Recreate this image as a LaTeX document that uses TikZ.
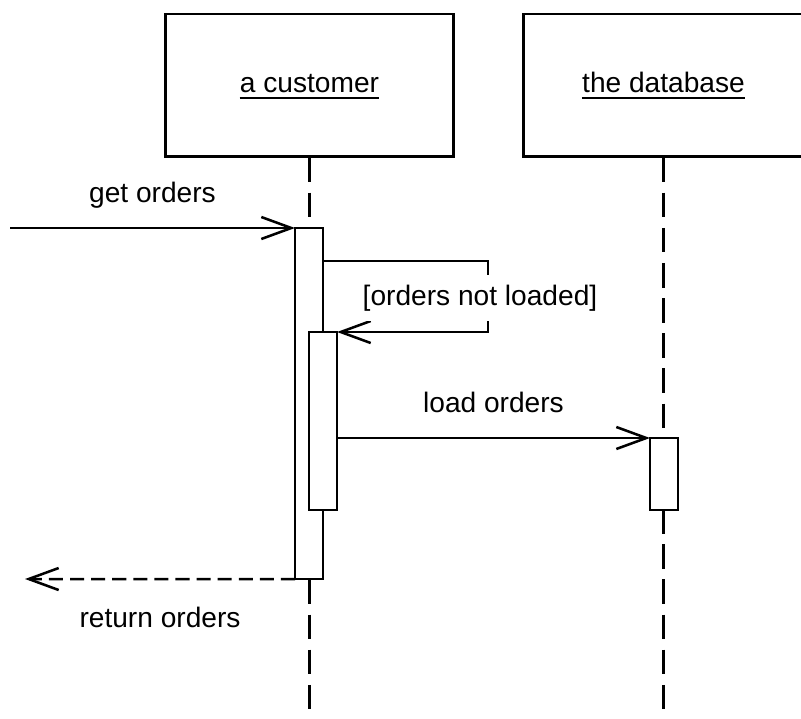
\documentclass[tikz,border=0pt]{standalone}
\usepackage{fontspec}
\setmainfont{Liberation Sans}
\usetikzlibrary{arrows.meta, positioning, calc}

\tikzset{
  headbox/.style={draw, line width=2.1pt, minimum width=7.175cm, minimum height=3.55cm},
  headname/.style={font=\fontsize{20}{24}\selectfont, inner sep=0pt, anchor=base},
  lifeline/.style={line width=2.1pt, dash pattern=on 17.5pt off 7.5pt},
  activation/.style={draw, fill=white, line width=1.6pt, minimum width=0.7cm, inner sep=0pt, outer sep=0pt, anchor=north},
  msg/.style={line width=1.8pt, -{Straight Barb[length=0.75cm, width=0.55cm]}},
  reply/.style={msg, dash pattern=on 10pt off 5pt},
  msglabel/.style={font=\fontsize{20}{24}\selectfont, inner sep=0pt, text height=15pt, text depth=5pt}
}

\begin{document}
\begin{tikzpicture}[x=0.025cm, y=-0.025cm]
        \useasboundingbox (0,0) rectangle (801,718);

        \node[headbox] (custhead) at (309.5,85) {};
        \node[headname] (custname) at ([yshift=-0.175cm]custhead.center) {a customer};
        \draw[line width=1.6pt] ([yshift=-0.15cm]custname.base west) -- ([yshift=-0.15cm]custname.base east);

        \node[headbox, minimum width=7cm] (dbhead) at (663.5,85) {};
        \node[headname] (dbname) at ([yshift=-0.175cm]dbhead.center) {the database};
        \draw[line width=1.6pt] ([yshift=-0.15cm]dbname.base west) -- ([yshift=-0.15cm]dbname.base east);

        \coordinate (custend) at (309.5,718);
        \coordinate (dbend) at (663.5,718);
        \draw[lifeline] (custhead.south) -- (custend);
        \draw[lifeline] (dbhead.south) -- (dbend);

        \node[activation, minimum height=8.775cm] (act1) at (309,228) {};
        \node[activation, minimum height=4.45cm] (act2) at (323,332) {};
        \node[activation, minimum height=1.8cm] (act3) at (664,438) {};

        \coordinate (gostart) at (10,228);
        \coordinate (roend) at (25,579);

        \draw[msg] (gostart) -- node[msglabel, above=0.43cm] (getlbl) {get orders} (act1.north west);

        \draw[msg] ($(act1.north east)+(0,33)$) -- ++(165,0) |- (act2.north east);
        \node[msglabel, fill=white, inner xsep=2pt, inner ysep=6.5pt] (guard) at (480,298) {[orders not loaded]};

        \draw[msg] (act2.east |- act3.north west) -- node[msglabel, above=0.43cm] (loadlbl) {load orders} (act3.north west);

        \draw[reply] (act1.south west) -- node[msglabel, below=0.64cm] (retlbl) {return orders} (roend);
    \end{tikzpicture}
\end{document}
